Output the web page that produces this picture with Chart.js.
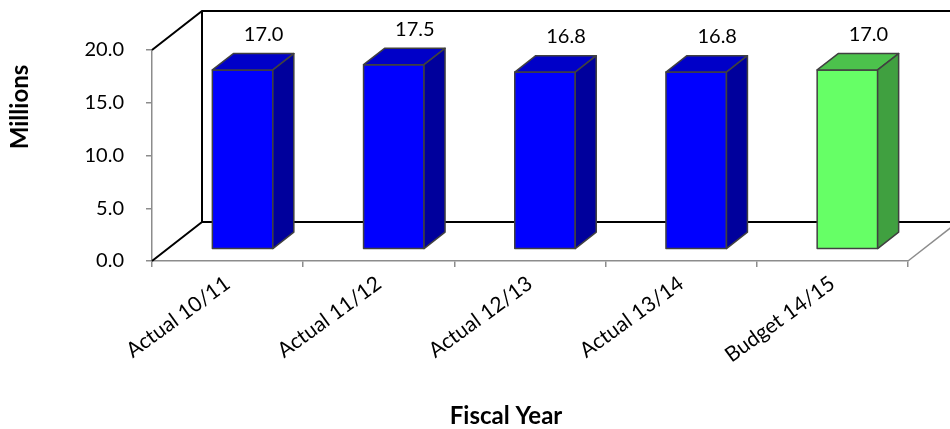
<!DOCTYPE html>
<html lang="en">
<head>
<meta charset="UTF-8">
<title>Fiscal Year</title>
<style>
    body { margin: 0; background: #fff; }
    #wrap { width: 950px; height: 429px; }
</style>
</head>
<body>
<div id="wrap"><canvas id="barChart"></canvas></div>

<script src="https://cdn.jsdelivr.net/npm/chart.js"></script>
<script>
    const years = ['Actual 10/11', 'Actual 11/12', 'Actual 12/13', 'Actual 13/14', 'Budget 14/15'];
    const millions = [17.0, 17.5, 16.8, 16.8, 17.0];
    const yTicks = [0, 5, 10, 15, 20];

    // colours per kind of year: front, top, side
    const palette = {
        Actual: ['#0000ff', '#0000c8', '#00009c'],
        Budget: ['#66ff66', '#4cc24c', '#40a040']
    };

    // depth of the 3d box, and where the bars sit inside it
    const DX = 50, DY = -39;
    const FRONT = 0.3, DEPTH = 0.42;
    const FONT = 'Lato';

    const poly = (ctx, pts, fill) => {
        ctx.beginPath();
        ctx.moveTo(pts[0][0], pts[0][1]);
        pts.slice(1).forEach(p => ctx.lineTo(p[0], p[1]));
        ctx.closePath();
        ctx.fillStyle = fill;
        ctx.fill();
        ctx.stroke();
    };

    const box3d = {
        id: 'box3d',
        beforeDatasetsDraw(chart) {
            const { ctx, chartArea: a } = chart;
            ctx.save();
            ctx.strokeStyle = '#000';
            ctx.lineWidth = 2;
            ctx.beginPath();
            ctx.moveTo(a.left, a.top);
            ctx.lineTo(a.left + DX, a.top + DY);
            ctx.lineTo(a.right + DX, a.top + DY);
            ctx.moveTo(a.left + DX, a.top + DY);
            ctx.lineTo(a.left + DX, a.bottom + DY);
            ctx.lineTo(a.right + DX, a.bottom + DY);
            ctx.moveTo(a.left, a.bottom);
            ctx.lineTo(a.left + DX, a.bottom + DY);
            ctx.stroke();
            // right edge of the floor
            ctx.strokeStyle = '#8c8c8c';
            ctx.lineWidth = 1.5;
            ctx.beginPath();
            ctx.moveTo(a.right, a.bottom);
            ctx.lineTo(a.right + DX, a.bottom + DY);
            ctx.stroke();
            ctx.restore();
        },
        afterDatasetsDraw(chart) {
            const { ctx, chartArea: a } = chart;
            const meta = chart.getDatasetMeta(0);
            const fx = FRONT * DX, fy = FRONT * DY, dx = DEPTH * DX, dy = DEPTH * DY;
            ctx.save();
            ctx.strokeStyle = '#404040';
            ctx.lineWidth = 1.5;
            ctx.lineJoin = 'round';
            meta.data.forEach((bar, i) => {
                const { x, y, base, width } = bar.getProps(['x', 'y', 'base', 'width'], true);
                const c = palette[years[i].split(' ')[0]];
                const l = x - width / 2 + fx, r = x + width / 2 + fx;
                const t = y + fy, b = base + fy;
                poly(ctx, [[l, t], [r, t], [r, b], [l, b]], c[0]);
                poly(ctx, [[l, t], [l + dx, t + dy], [r + dx, t + dy], [r, t]], c[1]);
                poly(ctx, [[r, t], [r + dx, t + dy], [r + dx, b + dy], [r, b]], c[2]);

                ctx.fillStyle = '#000';
                ctx.font = `20px ${FONT}`;
                ctx.textAlign = 'center';
                ctx.textBaseline = 'middle';
                ctx.fillText(millions[i].toFixed(1), x + fx + dx, t + dy - 19);
            });

            // axis titles
            ctx.font = `bold 24px ${FONT}`;
            ctx.fillStyle = '#000';
            ctx.textAlign = 'center';
            ctx.textBaseline = 'middle';
            ctx.fillText('Fiscal Year', a.left + 354, a.bottom + 155);
            ctx.translate(a.left - 132, a.top + 57);
            ctx.rotate(-Math.PI / 2);
            ctx.fillText('Millions', 0, 0);
            ctx.restore();
        }
    };

    const tickFont = { family: FONT, size: 20 };

    new Chart(document.getElementById('barChart'), {
        type: 'bar',
        data: {
            labels: years,
            datasets: [{
                data: millions,
                backgroundColor: 'rgba(0,0,0,0)',
                borderWidth: 0,
                categoryPercentage: 1,
                barPercentage: 0.4
            }]
        },
        options: {
            responsive: true,
            maintainAspectRatio: false,
            animation: false,
            layout: { padding: { top: 50, right: 42, left: 0, bottom: 0 } },
            plugins: { legend: { display: false }, tooltip: { enabled: false } },
            scales: {
                x: {
                    grid: { offset: true, drawOnChartArea: false, tickLength: 6, color: '#8c8c8c', lineWidth: 1.5 },
                    border: { display: true, color: '#8c8c8c', width: 1.5 },
                    ticks: { minRotation: 36, maxRotation: 36, font: { family: FONT, size: 21 }, color: '#000', padding: 4 },
                    afterFit(s) { s.height = 168; }
                },
                y: {
                    min: yTicks[0],
                    max: yTicks[yTicks.length - 1],
                    grid: { drawOnChartArea: false, tickLength: 6, color: '#8c8c8c', lineWidth: 1.5 },
                    border: { display: true, color: '#8c8c8c', width: 1.5 },
                    ticks: {
                        stepSize: yTicks[1] - yTicks[0],
                        font: tickFont,
                        color: '#000',
                        padding: 22,
                        callback: v => v.toFixed(1)
                    },
                    afterFit(s) { s.width = 152; }
                }
            }
        },
        plugins: [box3d]
    });
</script>
</body>
</html>
